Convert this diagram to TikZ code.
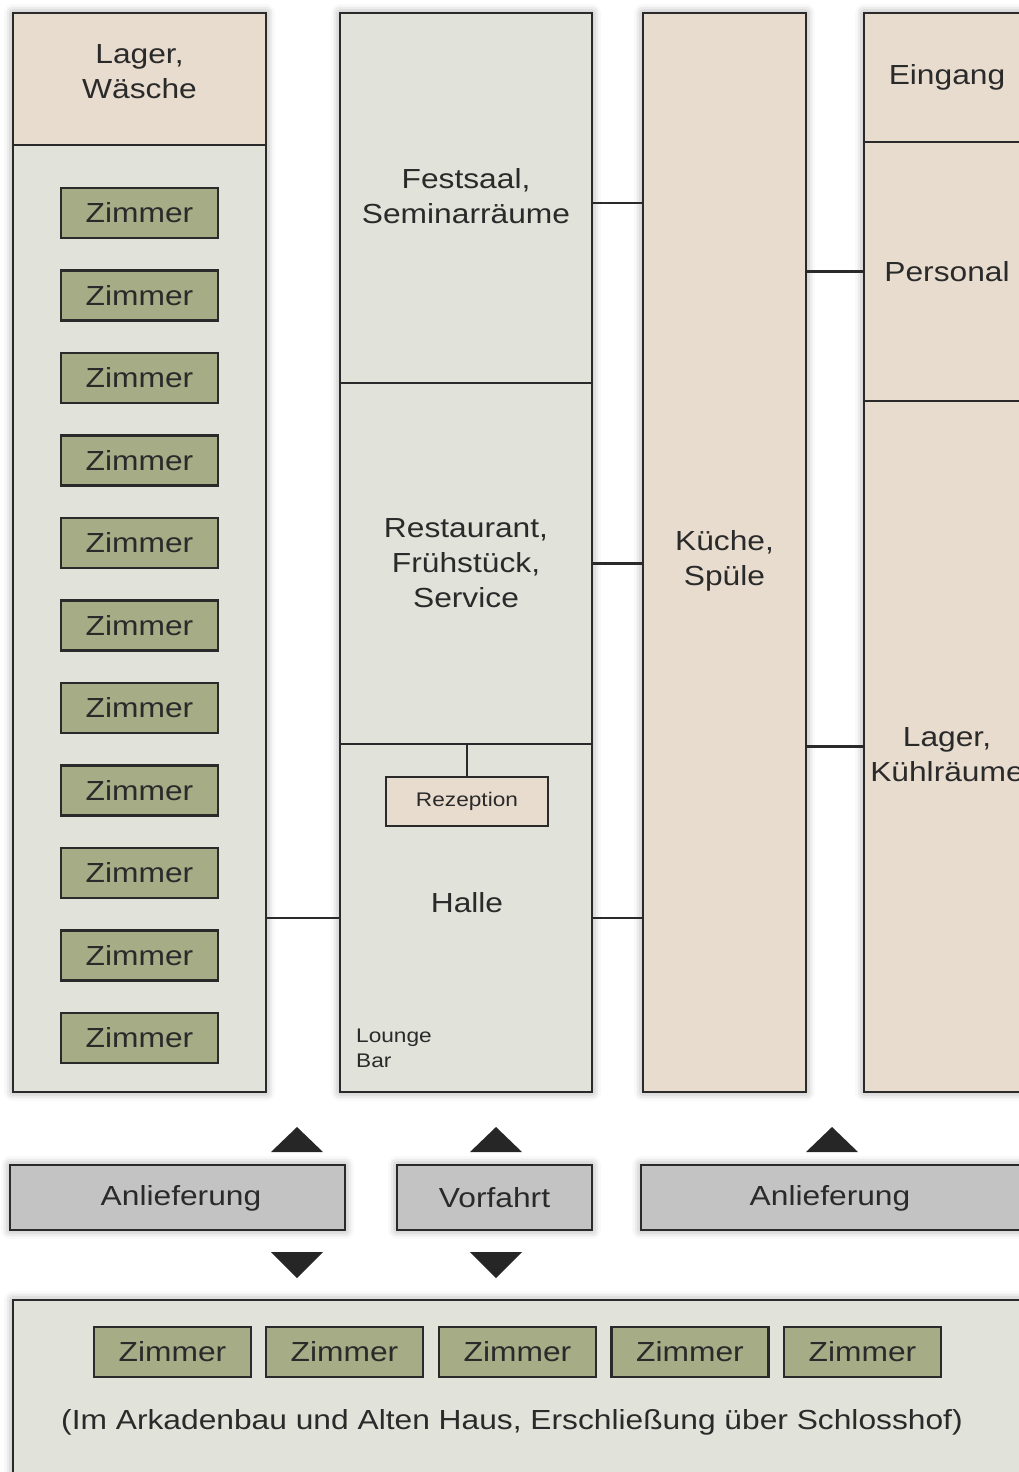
\documentclass[tikz,border=0pt]{standalone}
\usepackage{fontspec}
\setmainfont{Liberation Sans}[FakeStretch=1.15]
\usetikzlibrary{shadows.blur}

\definecolor{wallbeige}{HTML}{E8DCCF}
\definecolor{hallgray}{HTML}{E1E2D9}
\definecolor{roomolive}{HTML}{A6AC85}
\definecolor{drivegray}{HTML}{C3C3C3}
\definecolor{inkgray}{HTML}{2A2A2A}

\tikzset{
    area/.style={draw=inkgray, line width=2.8pt, inner sep=0pt, align=center,
        text=inkgray, font=\fontsize{27.6}{35}\selectfont},
    soft/.style={blur shadow={shadow xshift=0pt, shadow yshift=0pt,
        shadow blur radius=9pt, shadow opacity=40}},
    beigearea/.style={area, fill=wallbeige},
    grayarea/.style={area, fill=hallgray},
    zimmer/.style={area, fill=roomolive, minimum width=157pt, minimum height=50pt},
    drive/.style={area, soft, fill=drivegray, minimum height=65pt},
    caption/.style={text=inkgray, align=center, font=\fontsize{27.6}{35}\selectfont},
    small/.style={text=inkgray, inner sep=0pt, font=\fontsize{19.7}{25}\selectfont},
    link/.style={line width=2.8pt, draw=inkgray},
    marker/.style={fill=inkgray!90!black}
}

\begin{document}
\begin{tikzpicture}[x=1pt, y=-1pt]
    \useasboundingbox (0,0) rectangle (1019,1472);
    \clip (0,0) rectangle (1019,1472);

    % Outer blocks with shadow
    \node[grayarea, soft, minimum width=253, minimum height=1079] (westwing) at (139.5,552.5) {};
    \node[grayarea, soft, minimum width=252, minimum height=1079] (mittelbau) at (466,552.5) {};
    \node[beigearea, soft, minimum width=163, minimum height=1079] (kueche) at (724.5,552.5) {};
    \node[beigearea, soft, minimum width=166, minimum height=1079] (ostwing) at (947,552.5) {};
    \node[grayarea, soft, minimum width=1017, minimum height=190] (altbau) at (521.5,1395) {};
    \node[caption] (kuechename) at (724.5,561) {K\"uche,\\Sp\"ule};

    % West wing: storage and rooms
    \node[beigearea, minimum width=253, minimum height=132] (lagerw) at (139.5,79) {};
    \node[caption] (lagerwname) at (139.5,72) {Lager,\\W\"asche};
    \foreach \i in {0,...,10}
        \node[zimmer] (z\i) at (139.5,213+82.5*\i) {Zimmer};

    % Middle block
    \node[grayarea, minimum width=252, minimum height=370] (festsaal) at (466,198) {};
    \node[caption] (festsaalname) at (466,196) {Festsaal,\\Seminarr\"aume};
    \node[grayarea, minimum width=252, minimum height=361] (restaurant) at (466,563.5) {Restaurant,\\Fr\"uhst\"uck,\\Service};
    \node[grayarea, minimum width=252, minimum height=348] (halle) at (466,918) {};
    \node[area, fill=wallbeige, minimum width=162, minimum height=49,
        font=\fontsize{19.7}{25}\selectfont] (rezeption) at (467,801.5) {Rezeption};
    \node[caption] (hallename) at (467,903) {Halle};
    \node[small, anchor=north west, align=left] (lounge) at (356,1029) {Lounge\\Bar};
    \draw[link] (rezeption.north) -- (rezeption.north |- halle.north);

    % East wing
    \node[beigearea, minimum width=166, minimum height=129] (eingang) at (947,77.5) {Eingang};
    \node[beigearea, minimum width=166, minimum height=259] (personal) at (947,271.5) {Personal};
    \node[beigearea, minimum width=166, minimum height=691] (kuehl) at (947,746.5) {};
    \node[caption] (kuehlname) at (947,755) {Lager,\\K\"uhlr\"aume};

    % Links between the blocks
    \draw[link] (festsaal.east |- 0,203) -- (kueche.west |- 0,203);
    \draw[link] (restaurant.east) -- (restaurant.east -| kueche.west);
    \draw[link] (halle.east) -- (halle.east -| kueche.west);
    \draw[link] (halle.west -| westwing.east) -- (halle.west);
    \draw[link] (personal.west -| kueche.east) -- (personal.west);
    \draw[link] (kuehl.west -| kueche.east) -- (kuehl.west);

    % Access roads
    \node[drive, minimum width=335] (anl1) at (177.5,1197.5) {};
    \node[drive, minimum width=195] (vorfahrt) at (494.5,1197.5) {};
    \node[drive, minimum width=381] (anl2) at (831.5,1197.5) {};
    \node[caption] (anl1name) at (181,1198) {Anlieferung};
    \node[caption] (vorfahrtname) at (494.5,1198) {Vorfahrt};
    \node[caption] (anl2name) at (830,1198) {Anlieferung};

    % Direction markers
    \foreach \mx in {297,496,832}
        \fill[marker] (\mx,1127) -- (\mx+26,1152) -- (\mx-26,1152) -- cycle;
    \foreach \mx in {297,496}
        \fill[marker] (\mx,1278) -- (\mx+26,1252) -- (\mx-26,1252) -- cycle;

    % Old house rooms
    \foreach \i/\zx in {0/172.5,1/344.5,2/517.5,3/690,4/862.5}
        \node[zimmer] (a\i) at (\zx,1352) {Zimmer};
    \node[caption] (hinweis) at (512,1422)
        {(Im Arkadenbau und Alten Haus, Erschlie\ss ung \"uber Schlosshof)};
\end{tikzpicture}
\end{document}
